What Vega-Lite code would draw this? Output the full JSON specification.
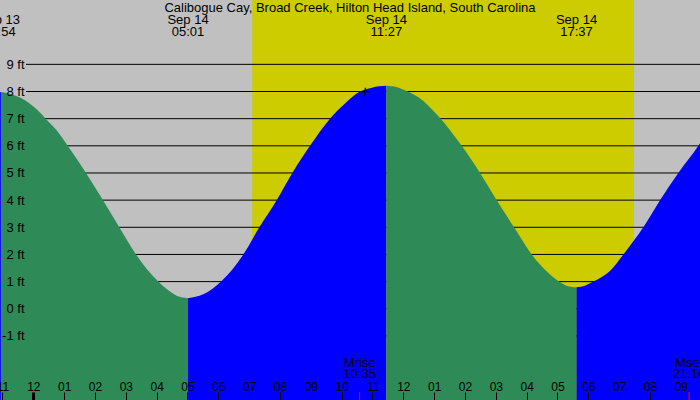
{
  "$schema": "https://vega.github.io/schema/vega-lite/v6.json",
  "width": 700,
  "height": 400,
  "padding": 0,
  "autosize": {"type": "none"},
  "background": "#c0c0c0",
  "config": {"view": {"stroke": null}},
  "datasets": {
    "sun": [
      {"start": -2.0, "end": 7.1, "period": "night"},
      {"start": 7.1, "end": 19.48, "period": "day"},
      {"start": 19.48, "end": 23.0, "period": "night"}
    ],
    "levels": [
      {"ft": -1}, {"ft": 0}, {"ft": 1}, {"ft": 2}, {"ft": 3}, {"ft": 4},
      {"ft": 5}, {"ft": 6}, {"ft": 7}, {"ft": 8}, {"ft": 9}
    ],
    "tide": [
      {"hour": -1.333, "ft": 7.95, "phase": "rising", "seg": 1},
      {"hour": -1.05, "ft": 7.98, "phase": "rising", "seg": 1},
      {"hour": -1.05, "ft": 7.98, "phase": "falling", "seg": 2},
      {"hour": -0.756, "ft": 7.92, "phase": "falling", "seg": 2},
      {"hour": -0.431, "ft": 7.775, "phase": "falling", "seg": 2},
      {"hour": -0.107, "ft": 7.55, "phase": "falling", "seg": 2},
      {"hour": 0.152, "ft": 7.3, "phase": "falling", "seg": 2},
      {"hour": 0.402, "ft": 7.0, "phase": "falling", "seg": 2},
      {"hour": 0.736, "ft": 6.6, "phase": "falling", "seg": 2},
      {"hour": 1.116, "ft": 6.0, "phase": "falling", "seg": 2},
      {"hour": 1.709, "ft": 5.0, "phase": "falling", "seg": 2},
      {"hour": 2.261, "ft": 4.0, "phase": "falling", "seg": 2},
      {"hour": 2.789, "ft": 3.0, "phase": "falling", "seg": 2},
      {"hour": 3.331, "ft": 2.0, "phase": "falling", "seg": 2},
      {"hour": 4.054, "ft": 1.0, "phase": "falling", "seg": 2},
      {"hour": 4.38, "ft": 0.68, "phase": "falling", "seg": 2},
      {"hour": 4.65, "ft": 0.48, "phase": "falling", "seg": 2},
      {"hour": 5.017, "ft": 0.39, "phase": "falling", "seg": 2},
      {"hour": 5.017, "ft": 0.39, "phase": "rising", "seg": 3},
      {"hour": 5.514, "ft": 0.53, "phase": "rising", "seg": 3},
      {"hour": 6.088, "ft": 1.0, "phase": "rising", "seg": 3},
      {"hour": 6.811, "ft": 2.0, "phase": "rising", "seg": 3},
      {"hour": 7.33, "ft": 3.0, "phase": "rising", "seg": 3},
      {"hour": 7.894, "ft": 4.0, "phase": "rising", "seg": 3},
      {"hour": 8.4, "ft": 5.0, "phase": "rising", "seg": 3},
      {"hour": 8.974, "ft": 6.0, "phase": "rising", "seg": 3},
      {"hour": 9.623, "ft": 7.0, "phase": "rising", "seg": 3},
      {"hour": 10.109, "ft": 7.56, "phase": "rising", "seg": 3},
      {"hour": 10.596, "ft": 8.0, "phase": "rising", "seg": 3},
      {"hour": 10.985, "ft": 8.14, "phase": "rising", "seg": 3},
      {"hour": 11.212, "ft": 8.19, "phase": "rising", "seg": 3},
      {"hour": 11.45, "ft": 8.21, "phase": "rising", "seg": 3},
      {"hour": 11.45, "ft": 8.21, "phase": "falling", "seg": 4},
      {"hour": 11.796, "ft": 8.16, "phase": "falling", "seg": 4},
      {"hour": 12.11, "ft": 8.02, "phase": "falling", "seg": 4},
      {"hour": 12.38, "ft": 7.86, "phase": "falling", "seg": 4},
      {"hour": 12.649, "ft": 7.65, "phase": "falling", "seg": 4},
      {"hour": 12.931, "ft": 7.34, "phase": "falling", "seg": 4},
      {"hour": 13.213, "ft": 7.0, "phase": "falling", "seg": 4},
      {"hour": 13.894, "ft": 6.0, "phase": "falling", "seg": 4},
      {"hour": 14.488, "ft": 5.0, "phase": "falling", "seg": 4},
      {"hour": 15.03, "ft": 4.0, "phase": "falling", "seg": 4},
      {"hour": 15.591, "ft": 3.0, "phase": "falling", "seg": 4},
      {"hour": 16.165, "ft": 2.0, "phase": "falling", "seg": 4},
      {"hour": 17.06, "ft": 1.0, "phase": "falling", "seg": 4},
      {"hour": 17.25, "ft": 0.87, "phase": "falling", "seg": 4},
      {"hour": 17.617, "ft": 0.79, "phase": "falling", "seg": 4},
      {"hour": 17.617, "ft": 0.79, "phase": "rising", "seg": 5},
      {"hour": 17.91, "ft": 0.86, "phase": "rising", "seg": 5},
      {"hour": 18.163, "ft": 1.0, "phase": "rising", "seg": 5},
      {"hour": 18.71, "ft": 1.4, "phase": "rising", "seg": 5},
      {"hour": 19.136, "ft": 2.0, "phase": "rising", "seg": 5},
      {"hour": 19.784, "ft": 3.0, "phase": "rising", "seg": 5},
      {"hour": 20.326, "ft": 4.0, "phase": "rising", "seg": 5},
      {"hour": 20.919, "ft": 5.0, "phase": "rising", "seg": 5},
      {"hour": 21.568, "ft": 6.0, "phase": "rising", "seg": 5},
      {"hour": 21.9, "ft": 6.6, "phase": "rising", "seg": 5}
    ],
    "events": [
      {"hour": -1.1, "date": "Sep 13", "hm": "22:54"},
      {"hour": 5.017, "date": "Sep 14", "hm": "05:01"},
      {"hour": 11.45, "date": "Sep 14", "hm": "11:27"},
      {"hour": 17.617, "date": "Sep 14", "hm": "17:37"}
    ],
    "moon": [
      {"hour": 10.583, "name": "Mrise", "hm": "10:35"},
      {"hour": 21.267, "name": "Mset", "hm": "21:16"}
    ],
    "marker": [{"hour": 10.767, "ft": 8.0}],
    "heading": [{"hour": 10.27, "text": "Calibogue Cay, Broad Creek, Hilton Head Island, South Carolina"}]
  },
  "resolve": {"scale": {"color": "independent"}},
  "layer": [
    {
      "data": {"name": "sun"},
      "mark": {"type": "rect", "clip": true},
      "encoding": {
        "x": {
          "field": "start",
          "type": "quantitative",
          "title": null,
          "scale": {"domain": [-1.08, 21.622], "nice": false, "zero": false},
          "axis": {
            "orient": "bottom",
            "offset": -8,
            "domain": false,
            "grid": false,
            "ticks": true,
            "tickSize": 8,
            "tickColor": "black",
            "tickWidth": {"condition": {"test": "datum.value == 0", "value": 3}, "value": 1},
            "tickCount": 100,
            "values": [-1, 0, 1, 2, 3, 4, 5, 6, 7, 8, 9, 10, 11, 12, 13, 14, 15, 16, 17, 18, 19, 20, 21],
            "labelExpr": "((datum.value % 12) + 12) % 12 == 0 ? '12' : pad(toString(((datum.value % 12) + 12) % 12), 2, '0', 'left')",
            "labelFont": "Liberation Sans",
            "labelFontSize": 12,
            "labelColor": "black",
            "labelPadding": -10,
            "labelBaseline": "alphabetic",
            "labelFlush": false,
            "labelOverlap": false,
            "labelBound": false,
            "title": null,
            "zindex": 1
          }
        },
        "x2": {"field": "end"},
        "color": {
          "field": "period",
          "type": "nominal",
          "scale": {"domain": ["night", "day"], "range": ["#c0c0c0", "#cccc00"]},
          "legend": null
        }
      }
    },
    {
      "data": {"name": "levels"},
      "mark": {"type": "rule", "color": "black", "strokeWidth": 1, "clip": true},
      "encoding": {
        "y": {
          "field": "ft",
          "type": "quantitative",
          "title": null,
          "scale": {"domain": [-3.36, 11.37], "nice": false, "zero": false},
          "axis": {
            "orient": "left",
            "offset": -26,
            "domain": false,
            "ticks": false,
            "grid": false,
            "tickCount": 100,
            "values": [-1, 0, 1, 2, 3, 4, 5, 6, 7, 8, 9],
            "labelExpr": "datum.value + ' ft'",
            "labelFont": "Liberation Sans",
            "labelFontSize": 13,
            "labelColor": "black",
            "labelPadding": 2,
            "labelAlign": "right",
            "labelBaseline": "middle",
            "labelOverlap": false,
            "title": null,
            "zindex": 1
          }
        },
        "x": {"datum": -0.237},
        "x2": {"datum": 23}
      }
    },
    {
      "data": {"name": "tide"},
      "mark": {"type": "area", "interpolate": "monotone", "clip": true},
      "encoding": {
        "x": {"field": "hour", "type": "quantitative"},
        "y": {"field": "ft", "type": "quantitative", "stack": null},
        "y2": {"datum": -3.4},
        "color": {
          "field": "phase",
          "type": "nominal",
          "scale": {"domain": ["falling", "rising"], "range": ["#2e8b57", "#0000ff"]},
          "legend": null
        },
        "detail": {"field": "seg", "type": "nominal"}
      }
    },
    {
      "data": {"name": "marker"},
      "mark": {"type": "text", "text": "+", "font": "Liberation Sans", "fontSize": 16, "color": "black", "align": "center", "baseline": "middle"},
      "encoding": {
        "x": {"field": "hour", "type": "quantitative"},
        "y": {"field": "ft", "type": "quantitative"}
      }
    },
    {
      "data": {"name": "moon"},
      "mark": {"type": "rule", "color": "#ff0000", "strokeWidth": 1, "clip": true},
      "encoding": {
        "x": {"field": "hour", "type": "quantitative"},
        "y": {"datum": -3.06},
        "y2": {"datum": -3.4}
      }
    },
    {
      "data": {"name": "moon"},
      "mark": {"type": "text", "font": "Liberation Sans", "fontSize": 13, "color": "black", "align": "center", "baseline": "alphabetic"},
      "encoding": {
        "x": {"field": "hour", "type": "quantitative"},
        "y": {"datum": -2.13},
        "text": {"field": "name"}
      }
    },
    {
      "data": {"name": "moon"},
      "mark": {"type": "text", "font": "Liberation Sans", "fontSize": 13, "color": "black", "align": "center", "baseline": "alphabetic"},
      "encoding": {
        "x": {"field": "hour", "type": "quantitative"},
        "y": {"datum": -2.56},
        "text": {"field": "hm"}
      }
    },
    {
      "data": {"name": "events"},
      "mark": {"type": "text", "font": "Liberation Sans", "fontSize": 13, "color": "black", "align": "center", "baseline": "alphabetic"},
      "encoding": {
        "x": {"field": "hour", "type": "quantitative"},
        "y": {"datum": 10.47},
        "text": {"field": "date"}
      }
    },
    {
      "data": {"name": "events"},
      "mark": {"type": "text", "font": "Liberation Sans", "fontSize": 13, "color": "black", "align": "center", "baseline": "alphabetic"},
      "encoding": {
        "x": {"field": "hour", "type": "quantitative"},
        "y": {"datum": 10.04},
        "text": {"field": "hm"}
      }
    },
    {
      "data": {"name": "heading"},
      "mark": {"type": "text", "font": "Liberation Sans", "fontSize": 13, "color": "black", "align": "center", "baseline": "alphabetic"},
      "encoding": {
        "x": {"field": "hour", "type": "quantitative"},
        "y": {"datum": 10.92},
        "text": {"field": "text"}
      }
    }
  ]
}
